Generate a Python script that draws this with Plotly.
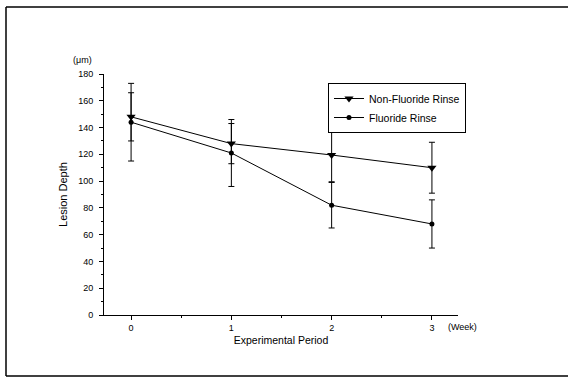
import plotly.graph_objects as go

weeks = [0, 1, 2, 3]
tick_labels = ["0", "1", "2", "3"]
non_fluoride = [148, 128, 119.5, 110]
non_fluoride_err_plus = [18, 15, 20, 19]
non_fluoride_err_minus = [18, 15, 20, 19]
fluoride = [144, 121, 82, 68]
fluoride_err_plus = [29, 25, 17, 18]
fluoride_err_minus = [29, 25, 17, 18]

FONT = "Liberation Sans, Arial, sans-serif"

fig = go.Figure()
fig.add_trace(go.Scatter(
    x=weeks, y=non_fluoride, name="Non-Fluoride Rinse", mode="lines+markers",
    line=dict(color="black", width=1),
    marker=dict(symbol="triangle-down", size=8, color="black"),
    error_y=dict(type="data", array=non_fluoride_err_plus, arrayminus=non_fluoride_err_minus,
                 color="black", thickness=1, width=3),
))
fig.add_trace(go.Scatter(
    x=weeks, y=fluoride, name="Fluoride Rinse", mode="lines+markers",
    line=dict(color="black", width=1),
    marker=dict(symbol="circle", size=5, color="black"),
    error_y=dict(type="data", array=fluoride_err_plus, arrayminus=fluoride_err_minus,
                 color="black", thickness=1, width=3),
))

L, R, T, B = 104, 458, 74, 315
W, H = 568, 378
pw, ph = R - L, B - T

def px(x):
    return (x - L) / pw

def py(y):
    return (B - y) / ph

fig.update_layout(
    width=W, height=H,
    margin=dict(l=L, r=W - R, t=T, b=H - B, pad=0, autoexpand=False),
    paper_bgcolor="white", plot_bgcolor="white",
    font=dict(family=FONT, size=9, color="black"),
    showlegend=True,
    legend=dict(
        x=px(328), y=py(83), xanchor="left", yanchor="top",
        bordercolor="black", borderwidth=1, bgcolor="white",
        font=dict(size=10.5, family=FONT), tracegroupgap=0,
        itemwidth=30, traceorder="normal",
    ),
    xaxis=dict(
        range=[-0.27, 3.26], tickmode="array", tickvals=weeks, ticktext=tick_labels,
        showgrid=False, zeroline=False, showline=True, linecolor="black", linewidth=1,
        ticks="outside", ticklen=4, tickcolor="black", tickfont=dict(size=9),
        minor=dict(tickvals=[0.5, 1.5, 2.5], ticks="outside", ticklen=2, tickcolor="black"),
        title=dict(text="Experimental Period", font=dict(size=10.5), standoff=4),
        automargin=False,
    ),
    yaxis=dict(
        range=[0, 180], tickmode="linear", tick0=0, dtick=20,
        showgrid=False, zeroline=False, showline=True, linecolor="black", linewidth=1,
        ticks="outside", ticklen=4, tickcolor="black", tickfont=dict(size=9),
        ticklabelstandoff=4,
        minor=dict(dtick=10, ticks="outside", ticklen=2, tickcolor="black"),
        title=dict(text="Lesion Depth", font=dict(size=11), standoff=8),
        automargin=False,
    ),
    annotations=[
        dict(text="(μm)", x=px(82), y=py(60), xref="paper", yref="paper",
             showarrow=False, font=dict(size=9, family=FONT), xanchor="center", yanchor="middle"),
        dict(text="(Week)", x=px(446), y=py(327), xref="paper", yref="paper",
             showarrow=False, font=dict(size=9, family=FONT), xanchor="left", yanchor="middle"),
    ],
    shapes=[
        dict(type="line", xref="paper", yref="paper", x0=px(6), x1=px(568), y0=py(7), y1=py(7),
             line=dict(color="black", width=1.5)),
        dict(type="line", xref="paper", yref="paper", x0=px(6), x1=px(6), y0=py(7), y1=py(376),
             line=dict(color="black", width=1.5)),
        dict(type="line", xref="paper", yref="paper", x0=px(6), x1=px(568), y0=py(376), y1=py(376),
             line=dict(color="black", width=1.5)),
    ],
)

fig.write_html("out.html", config={"displayModeBar": False},
               post_script="document.body.style.margin='0';document.body.style.overflow='hidden';")
